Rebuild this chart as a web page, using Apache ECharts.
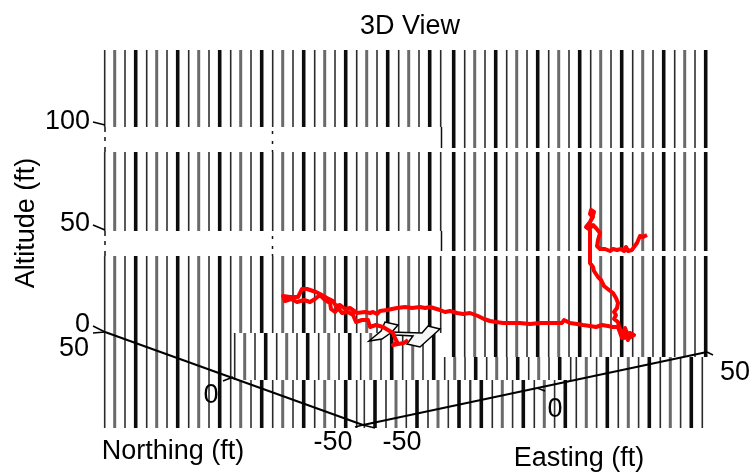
<!DOCTYPE html>
<html><head><meta charset="utf-8">
<style>html,body{margin:0;padding:0;background:#fff}#c{width:750px;height:474px}</style>
<script src="https://cdn.jsdelivr.net/npm/echarts@6/dist/echarts.min.js"></script>
</head><body><div id="c"></div>
<script>
// Flight track (plot-plane units)
const trackPoints = [[647,235],[643,237],[640,236],[637,243],[634,247],[632,250],[628,251],[626,247],[624,251],[621,249],[617,250],[613,249],[610,251],[605,249],[600,249],[597,246],[598,240],[600,233],[596,228],[593,225],[589,229],[586,227],[590,222],[593,217],[590,214],[591,210],[594,212],[592,218],[589,224],[590,232],[590,240],[590,250],[590,263],[593,267],[594,271],[598,277],[601,280],[604,286],[609,290],[613,293],[616,298],[618,303],[617,308],[614,312],[616,315],[614,319],[618,322],[619,327],[621,330],[622,338],[626,336],[628,340],[630,333],[634,335],[629,338],[625,328],[624,338],[621,332],[622,338],[618,327],[613,327],[608,326],[602,325],[596,327],[590,326],[583,325],[577,324],[570,323],[564,320],[562,323],[555,323],[550,323],[540,323],[530,324],[520,323],[510,323],[503,323],[496,322],[490,321],[484,319],[478,316],[470,313],[463,314],[457,313],[450,311],[445,312],[440,310],[430,307],[425,308],[420,307],[412,308],[405,307],[397,308],[387,310],[380,311],[377,314],[373,312],[370,313],[365,312],[357,313],[350,308],[345,309],[340,305],[336,306],[333,301],[327,298],[320,294],[316,292],[313,291],[307,289],[302,289],[300,293],[298,297],[290,297],[283,296],[285,301],[291,299],[297,302],[304,300],[310,302],[315,299],[320,295],[325,300],[330,303],[331,309],[335,312],[338,308],[342,313],[348,312],[353,315],[356,322],[362,320],[368,320],[370,327],[376,325],[383,327],[388,330],[393,333],[395,338],[397,342],[393,345],[398,344],[400,342],[404,343],[408,340]];
const aircraftShapes = [
  [[369,341],[381,331],[385,322],[398,325],[392,332],[382,339]],
  [[390,332],[422,333],[428,326],[440,329],[420,347],[407,344],[413,336],[395,335]]
];
const axisLines = [[105,332,363,425],[363,425,707,352]];
const axisTicks = [[93,122,105,125],[93,225,105,230],[93,326,105,332],[93,333,105,332],[223,381,233,377],[355,427,363,425],[363,425,375,428],[537,388,545,391],[707,352,713,355]];
const bandDots = [[272.5,131,272.5,134],[272.5,141,272.5,144],[272.5,150,272.5,152],[272.5,236,272.5,239],[272.5,246,272.5,249],[272.5,254,272.5,256],[105,127,105,132],[105,137,105,141],[105,147,105,152],[105,231,105,236],[105,241,105,245],[105,251,105,256],[441.5,127,441.5,148],[441.5,231,441.5,251]];
// Aliased grid stripes: each block is x0, x1, y0, y1, phase of the heavy stripe
const stripeBlocks = [
  [100,442,50,127,135.7],[100,442,152,231,135.7],[100,442,256,333,135.7],
  [100,233,333,380,135.7],[100,362,380,428,135.7],[362,470,380,428,375],
  [233,441,333,380,265.7],[441,572,357,380,265.7],
  [444,708,50,148,453.7],[444,708,152,251,453.7],[444,708,256,357,453.7],
  [470,708,380,428,481.3],[572,708,357,380,481.3]
];
const stripePeriod = 42;
const stripeKinds = [
  {offset:0, width:3.6, color:'#0c0c0c'},
  {offset:11, width:1.6, color:'#2a2a2a'},
  {offset:21, width:3, color:'#6a6a6a'},
  {offset:31.3, width:1.6, color:'#303030'}
];
const labels = [
  ['100',90,122,'right',0],['50',90,224,'right',0],['0',90,325,'right',0],
  ['50',89,349,'right',0],['0',211,396,'center',0],['-50',333,443,'center',0],
  ['-50',402,443,'center',0],['0',555,410,'center',0],['50',735,373,'center',0],
  ['Northing (ft)',173,452,'center',0],['Easting (ft)',579,459,'center',0],
  ['Altitude (ft)',27,223,'center',90]
];
const titleText = '3D View';
const font = '"Liberation Sans", Arial, sans-serif';
const fontSize = 27;

const stripeData = [];
stripeBlocks.forEach(([x0,x1,y0,y1,t]) => {
  stripeKinds.forEach((k,i) => {
    let x = t + k.offset;
    while (x - stripePeriod >= x0) x -= stripePeriod;
    for (; x <= x1; x += stripePeriod) {
      if (x >= x0) stripeData.push([x,y0,x,y1,i]);
    }
  });
});
function seg(width,colorFn){
  return (params,api)=>{
    const a=api.coord([api.value(0),api.value(1)]), b=api.coord([api.value(2),api.value(3)]);
    const c=colorFn(api);
    return {type:'line',shape:{x1:a[0],y1:a[1],x2:b[0],y2:b[1]},style:{stroke:c.color,lineWidth:c.width||width}};
  };
}
const enc={x:[0,2],y:[1,3]};
const chart=echarts.init(document.getElementById('c'),null,{renderer:'canvas'});
chart.setOption({
  animation:false,
  backgroundColor:'#fff',
  title:{text:titleText,left:405,top:8,textAlign:'center',textStyle:{fontFamily:font,fontSize:fontSize,fontWeight:'normal',color:'#000'}},
  grid:{left:0,right:0,top:0,bottom:0},
  xAxis:{type:'value',min:0,max:750,show:false},
  yAxis:{type:'value',min:0,max:474,inverse:true,show:false},
  series:[
    {type:'custom',silent:true,clip:false,encode:enc,data:stripeData,
     renderItem:seg(1,api=>stripeKinds[api.value(4)])},
    {type:'custom',silent:true,encode:enc,data:bandDots,
     renderItem:seg(1.5,()=>({color:'#111'}))},
    {type:'custom',silent:true,encode:enc,data:axisLines,
     renderItem:seg(2,()=>({color:'#000'}))},
    {type:'custom',silent:true,encode:enc,data:axisTicks,
     renderItem:seg(1.5,()=>({color:'#000'}))},
    {type:'custom',silent:true,data:aircraftShapes.map((s,i)=>[i]),
     renderItem:(params,api)=>({type:'polygon',
       shape:{points:aircraftShapes[api.value(0)].map(p=>api.coord(p))},
       style:{fill:'#f6f6f6',stroke:'#000',lineWidth:1.5}})},
    {type:'line',data:trackPoints,showSymbol:false,silent:true,
     lineStyle:{color:'#ff0000',width:4,join:'round'}},
    {type:'custom',silent:true,data:labels.map((l,i)=>[l[1],l[2],i]),
     renderItem:(params,api)=>{
       const l=labels[api.value(2)], p=api.coord([l[1],l[2]]);
       return {type:'text',x:p[0],y:p[1],rotation:l[4]*Math.PI/180,
         style:{text:l[0],align:l[3],verticalAlign:'middle',fontFamily:font,fontSize:fontSize,fill:'#000'}};
     }}
  ]
});
</script></body></html>
